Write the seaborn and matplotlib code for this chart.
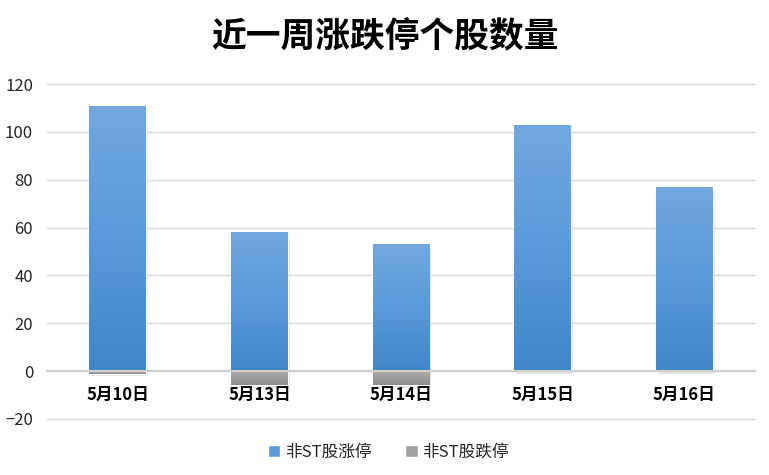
import matplotlib.pyplot as plt
import matplotlib.patheffects as pe
from matplotlib.patches import Patch
import seaborn as sns
import numpy as np
import pandas as pd

# data
dates = ['5月10日', '5月13日', '5月14日', '5月15日', '5月16日']
limit_up = [111, 58, 53, 103, 77]
limit_down = [-1, -6, -6, 0, 0]

df = pd.DataFrame({'date': dates, 'up': limit_up, 'down': limit_down})

sns.set_style('white')
plt.rcParams['font.family'] = ['Noto Sans CJK SC', 'DejaVu Sans']

fig = plt.figure(figsize=(7.69, 4.75), dpi=100)
ax = fig.add_axes([0.061, 0.118, 0.921, 0.705])

sns.barplot(x='date', y='up', data=df, color='#5b9bd5', width=0.4, ax=ax)
n_up = len(ax.patches)
sns.barplot(x='date', y='down', data=df, color='#a0a0a0', width=0.4, ax=ax)

# gradient fill + soft shadow on each bar
blue_grad = plt.matplotlib.colors.LinearSegmentedColormap.from_list('b', ['#3f86c9', '#5a9ada', '#72a8de'])
gray_grad = plt.matplotlib.colors.LinearSegmentedColormap.from_list('g', ['#8c8c8c', '#b0b0b0'])
grad = np.linspace(0, 1, 256).reshape(-1, 1)
for i, p in enumerate(ax.patches):
    x0, y0 = p.get_x(), p.get_y()
    w, h = p.get_width(), p.get_height()
    if h == 0:
        continue
    p.set_path_effects([pe.SimplePatchShadow(offset=(1.5, -2), shadow_rgbFace='#b0b0b0', alpha=0.35), pe.Normal()])
    cmap = blue_grad if i < n_up else gray_grad
    lo, hi = min(y0, y0 + h), max(y0, y0 + h)
    im = ax.imshow(grad, cmap=cmap, origin='lower', aspect='auto',
                   extent=[x0, x0 + w, lo, hi], zorder=p.get_zorder() + 0.1)
    im.set_clip_path(p)

ax.set_xlim(-0.5, len(dates) - 0.5)
ax.set_ylim(-20, 120)
ax.set_yticks(range(-20, 121, 20))
ax.yaxis.grid(True, color='#d9d9d9', linewidth=1)
for gl in ax.get_ygridlines():
    gl.set_clip_on(False)
ax.set_axisbelow(True)
ax.tick_params(axis='y', length=0, labelsize=12, pad=10, colors='#262626')

for s in ['left', 'right', 'top']:
    ax.spines[s].set_visible(False)
ax.spines['bottom'].set_position(('data', 0))
ax.spines['bottom'].set_color('#d0d0d0')
ax.spines['bottom'].set_linewidth(1.5)
ax.set_xticks(np.arange(-0.5, len(dates), 1))
ax.set_xticklabels([])
ax.tick_params(axis='x', direction='out', length=5, color='#d0d0d0', width=1.5)

for i, d in enumerate(dates):
    ax.text(i, -10, d, ha='center', va='center', fontsize=12, fontweight='bold', color='black')

ax.set_xlabel('')
ax.set_ylabel('')

fig.suptitle('近一周涨跌停个股数量', x=0.5, y=0.96, fontsize=25, fontweight='black', color='black')

handles = [Patch(facecolor='#5b9bd5', label='非ST股涨停'),
           Patch(facecolor='#a0a0a0', label='非ST股跌停')]
fig.legend(handles=handles, loc='center', bbox_to_anchor=(0.505, 0.047), ncol=2, frameon=False,
           fontsize=12, handlelength=0.75, handleheight=0.75, handletextpad=0.3, columnspacing=2.0,
           labelcolor='#262626')

fig.savefig('out.png', dpi=100)
